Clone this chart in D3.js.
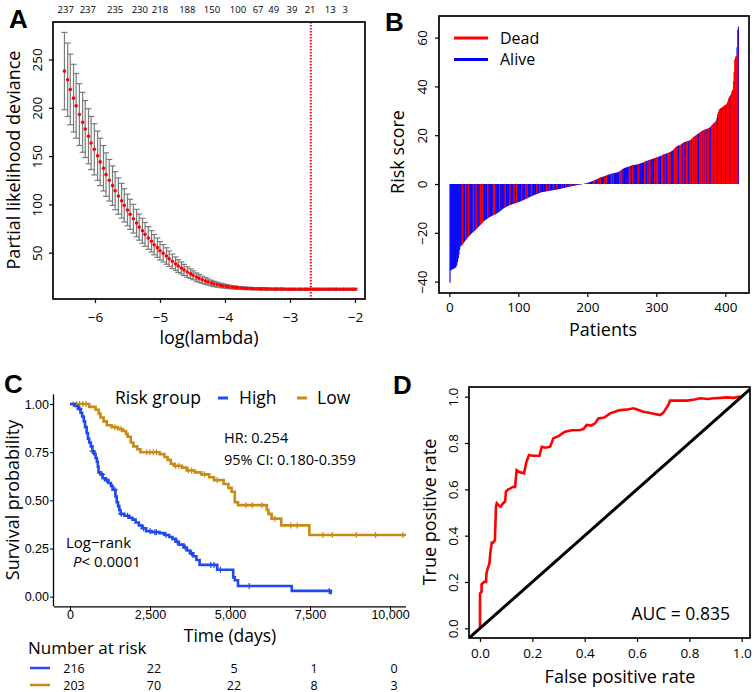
<!DOCTYPE html>
<html><head><meta charset="utf-8">
<script src="https://cdn.jsdelivr.net/npm/d3@7"></script>
<style>
body{margin:0;background:#fff}
svg{font-family:"Open Sans",sans-serif}
</style></head><body>
<svg id="c" width="755" height="692"></svg>
<script>
// ---------- Panel A: cross-validation curve ----------
const cvLogLambda = [
-6.47,-6.42,-6.38,-6.33,-6.29,-6.24,-6.19,-6.15,-6.10,-6.06,
-6.01,-5.96,-5.92,-5.87,-5.83,-5.78,-5.73,-5.69,-5.64,-5.59,
-5.55,-5.50,-5.46,-5.41,-5.36,-5.32,-5.27,-5.23,-5.18,-5.13,
-5.09,-5.04,-5.00,-4.95,-4.90,-4.86,-4.81,-4.76,-4.72,-4.67,
-4.63,-4.58,-4.53,-4.49,-4.44,-4.40,-4.35,-4.30,-4.26,-4.21,
-4.17,-4.12,-4.07,-4.03,-3.98,-3.94,-3.89,-3.84,-3.80,-3.75,
-3.70,-3.66,-3.61,-3.57,-3.52,-3.47,-3.43,-3.38,-3.34,-3.29,
-3.24,-3.20,-3.15,-3.11,-3.06,-3.01,-2.97,-2.92,-2.87,-2.83,
-2.78,-2.74,-2.69,-2.64,-2.60,-2.55,-2.51,-2.46,-2.41,-2.37,
-2.32,-2.28,-2.23,-2.18,-2.14,-2.09,-2.04,-2.00];
const cvMean = [
238,229,219,210,202,193,185,178,170.5,163.6,
157,150.4,144,137.4,130.8,125,119.4,114.2,108.7,103.8,
99,94.2,89.7,85.2,80.7,76.5,72.7,69,65.2,61.8,
58.3,55.2,52,49.4,46.6,43.8,41.1,38.6,36.2,34.2,
32.1,30,28.3,26.6,24.8,23.5,22,20.7,19.7,18.6,
17.6,16.9,16.2,15.6,15.1,14.6,14.2,13.9,13.6,13.4,
13.2,13.0,12.9,12.8,12.7,12.6,12.5,12.5,12.4,12.4,
12.3,12.3,12.3,12.3,12.2,12.2,12.2,12.2,12.2,12.2,
12.2,12.2,12.2,12.2,12.2,12.2,12.2,12.2,12.2,12.2,
12.2,12.2,12.2,12.2,12.2,12.2,12.2,12.2];
const cvSE = [
40,38,36.5,35,33.5,32,31,29.5,28.5,27.5,
26.5,25.5,24.5,23.5,22.5,21.5,20.5,19.7,18.8,18,
17.2,16.4,15.6,14.9,14.2,13.5,12.9,12.3,11.7,11.1,
10.5,10,9.5,9,8.5,8,7.5,7,6.6,6.2,
5.8,5.4,5,4.6,4.3,4,3.7,3.4,3.1,2.9,
2.7,2.5,2.3,2.1,2.0,1.8,1.7,1.6,1.5,1.4,
1.3,1.2,1.2,1.1,1.1,1.0,1.0,1.0,0.9,0.9,
0.9,0.9,0.9,0.9,0.9,0.9,0.9,0.9,0.9,0.9,
0.9,0.9,0.9,0.9,0.9,0.9,0.9,0.9,0.9,0.9,
0.9,0.9,0.9,0.9,0.9,0.9,0.9,0.9];
const nzLogLambda = [-6.45,-6.11,-5.69,-5.31,-5.0,-4.58,-4.2,-3.8,-3.49,-3.25,-2.97,-2.69,-2.38,-2.15];
const nzLabels = ["237","237","235","230","218","188","150","100","67","49","39","21","13","3"];
const lambdaMinLog = -2.68;
const aXTicks = [-6,-5,-4,-3,-2];
const aYTicks = [50,100,150,200,250];

// ---------- Panel B: risk score per patient ----------
const riskScore = [
-40.4,
-35.5,-35.2,-35.0,-34.9,-34.8,-34.6,-34.5,-34.2,-33.8,-33.2,-32.0,
-30.5,-29.0,-27.0,
-25.6,-25.3,-25.1,-24.8,-24.4,
-24.0,-23.6,-23.2,-22.9,-22.5,-22.1,-21.8,-21.5,-21.2,-20.9,
-20.6,-20.3,-20.0,-19.8,-19.5,-19.3,-19.0,-18.7,-18.5,-18.2,
-17.9,-17.6,-17.3,-17.0,-16.7,-16.4,-16.1,-15.8,-15.5,-15.2,
-15.0,-14.8,-14.6,-14.4,-14.2,-14.0,-13.8,-13.6,-13.5,-13.3,
-13.2,-13.0,-12.9,-12.7,-12.6,-12.5,-12.3,-12.2,-12.0,-11.8,
-11.6,-11.4,-11.2,-11.0,-10.8,-10.5,-10.3,-10.1,-9.9,-9.7,
-9.6,-9.4,-9.2,-9.1,-9.0,-8.8,-8.7,-8.6,-8.5,-8.4,
-8.3,-8.2,-8.1,-8.0,-7.9,-7.8,-7.7,-7.6,-7.5,-7.4,
-7.3,-7.2,-7.1,-7.0,-6.9,-6.7,-6.6,-6.5,-6.3,-6.2,
-6.1,-6.0,-5.8,-5.7,-5.5,-5.4,-5.2,-5.1,-5.0,-4.9,
-4.8,-4.6,-4.5,-4.4,-4.3,-4.2,-4.1,-4.0,-3.9,-3.7,
-3.6,-3.5,-3.4,-3.3,-3.3,-3.2,-3.2,-3.1,-3.1,-3.0,
-3.0,-2.9,-2.9,-2.8,-2.8,-2.7,-2.7,-2.6,-2.6,-2.5,
-2.5,-2.4,-2.4,-2.3,-2.3,-2.2,-2.2,-2.1,-2.1,-2.0,
-1.9,-1.9,-1.8,-1.7,-1.7,-1.6,-1.5,-1.5,-1.4,-1.3,
-1.3,-1.2,-1.1,-1.1,-1.0,-0.9,-0.9,-0.8,-0.7,-0.7,
-0.6,-0.6,-0.5,-0.5,-0.4,-0.4,-0.3,-0.3,-0.2,-0.2,
-0.1,-0.1,0.0,0.0,0.1,0.1,0.2,0.3,0.3,0.4,
0.5,0.6,0.7,0.8,0.9,1.0,1.1,1.2,1.3,1.4,
1.5,1.6,1.8,1.9,2.0,2.2,2.3,2.4,2.6,2.7,
2.8,2.9,3.0,3.1,3.2,3.3,3.4,3.5,3.6,3.7,
3.8,3.9,4.0,4.1,4.2,4.2,4.3,4.4,4.5,4.5,
4.6,4.6,4.7,4.8,4.9,5.0,5.2,5.4,5.6,5.8,
6.0,6.2,6.4,6.5,6.6,6.7,6.8,6.9,7.0,7.1,
7.2,7.3,7.4,7.5,7.6,7.7,7.7,7.8,7.8,7.9,
7.9,8.0,8.0,8.1,8.2,8.3,8.4,8.5,8.6,8.7,
8.8,8.9,9.0,9.2,9.3,9.4,9.5,9.6,9.7,9.8,
9.9,10.0,10.1,10.2,10.3,10.4,10.5,10.6,10.7,10.8,
10.9,11.0,11.1,11.2,11.3,11.4,11.5,11.6,11.8,12.0,
12.1,12.2,12.3,12.4,12.5,12.6,12.7,12.8,12.9,13.0,
13.2,13.4,13.6,13.8,14.0,14.3,14.6,14.9,15.2,15.5,
15.6,15.7,15.8,15.9,16.0,16.2,16.4,16.6,16.8,17.0,
17.1,17.2,17.3,17.4,17.5,17.6,17.7,17.8,17.9,18.0,
18.3,18.6,18.9,19.2,19.4,19.6,19.8,20.0,20.2,20.4,
20.6,20.8,21.0,21.2,21.4,21.6,21.8,22.0,22.1,22.2,
22.3,22.4,22.5,22.6,22.7,22.8,23.0,23.2,23.5,23.8,
24.1,24.4,24.7,25.0,25.3,25.6,26.0,27.0,28.5,29.5,
30.2,30.6,30.9,31.1,31.3,31.5,31.7,31.9,32.1,32.3,
32.5,32.8,33.2,34.0,35.0,35.6,36.0,36.5,37.2,38.0,
38.6,42.0,46.0,51.0,52.0,52.5,56.0,63.0,64.5];
const deadPatients = [
19,24,28,35,39,45,48,56,64,66,73,81,88,94,98,105,111,113,119,127,131,141,145,151,156,163,169,175,177,182,188,199,
201,209,211,216,219,225,228,235,238,247,249,250,261,262,266,274,283,284,288,291,298,301,302,308,309,313,317,318,320,
326,327,329,330,334,335,337,340,344,345,349,350,353,354,356,358,359,363,364,366,368,369,371,372,375,376,380,381,382,
384,386,387,390,392,393,396,397,398,399,402,403,404,405,407,409,410,411,412,413,414,415,416,418];
const statusLabels = ["Dead","Alive"];
const bXTicks = [0,100,200,300,400];
const bYTicks = [-40,-20,0,20,40,60];

// ---------- Panel C: Kaplan-Meier ----------
const groups = ["High","Low"];
const highTime = [150,250,330,380,430,470,520,560,600,650,700,760,800,840,870,890,950,1020,1100,1200,1280,1330,1420,1460,1500,1540,1580,1700,1850,1950,2050,2150,2250,2380,2550,2800,2950,3100,3200,3300,3400,3550,3650,3750,3850,3950,4050,4600,5100,5150,5250,6930,8150];
const highSurv = [0.99,0.975,0.955,0.935,0.91,0.88,0.85,0.82,0.80,0.78,0.755,0.74,0.72,0.70,0.675,0.645,0.635,0.615,0.605,0.59,0.575,0.555,0.52,0.49,0.47,0.45,0.43,0.42,0.41,0.40,0.385,0.37,0.355,0.34,0.335,0.33,0.32,0.31,0.30,0.285,0.27,0.255,0.24,0.225,0.21,0.19,0.165,0.14,0.10,0.085,0.055,0.03,0.013];
const highEnd = 8150;
const highCensor = [300,700,1000,1150,1400,1600,1800,2300,2500,2650,2700,3000,3350,3600,3800,4400,4500,4700,5600,8100];
const lowTime = [600,800,900,950,1050,1150,1300,1500,1650,1750,1800,1900,1980,2100,2200,2800,2950,3050,3150,3250,3500,3650,3900,4100,4350,4500,4800,4950,5050,5150,5250,6150,6200,6300,6600,7480];
const lowSurv = [0.985,0.97,0.95,0.93,0.91,0.89,0.88,0.87,0.86,0.845,0.83,0.80,0.78,0.765,0.75,0.74,0.725,0.71,0.69,0.68,0.67,0.655,0.645,0.635,0.62,0.605,0.585,0.565,0.545,0.49,0.475,0.45,0.43,0.405,0.37,0.32];
const lowEnd = 10500;
const lowCensor = [100,200,300,400,500,1400,1600,2400,2500,2600,2700,3300,3400,3700,3800,4200,4600,5500,5700,6000,6400,6900,7100,7900,8200,8950,9550,10400];
const cXTicks = [0,2500,5000,7500,10000];
const cYTicks = [0,0.25,0.5,0.75,1];
const riskHigh = [216,22,5,1,0];
const riskLow = [203,70,22,8,3];

// ---------- Panel D: ROC ----------
const rocFPR = [0,0,0,0.006,0.006,0.015,0.023,0.025,0.03,0.036,0.04,0.045,0.05,0.057,0.061,0.064,0.072,0.079,0.088,0.096,
0.099,0.108,0.117,0.125,0.134,0.14,0.15,0.168,0.178,0.187,0.2,0.215,0.227,0.236,0.25,0.268,0.28,0.3,0.325,0.35,
0.382,0.395,0.408,0.425,0.44,0.452,0.475,0.497,0.515,0.535,0.56,0.586,0.6,0.624,0.65,0.688,0.7,0.707,0.72,0.726,
0.75,0.79,0.82,0.841,0.87,0.892,0.92,0.943,0.97,0.987,1];
const rocTPR = [0,0.08,0.15,0.158,0.19,0.2,0.2,0.24,0.26,0.28,0.33,0.37,0.37,0.38,0.525,0.54,0.53,0.525,0.54,0.547,
0.59,0.6,0.604,0.61,0.61,0.683,0.675,0.669,0.72,0.748,0.745,0.745,0.744,0.784,0.78,0.784,0.82,0.83,0.849,0.855,
0.856,0.86,0.878,0.875,0.885,0.906,0.91,0.928,0.935,0.942,0.944,0.95,0.945,0.935,0.93,0.921,0.93,0.942,0.965,0.983,
0.983,0.983,0.988,0.993,0.99,0.993,0.995,0.997,0.995,1,1];
const dTicks = [0,0.2,0.4,0.6,0.8,1.0];
const aucLabel = "AUC = 0.835";

// ================= drawing =================
const svg = d3.select("#c");
const RED = "#ff0000", BLUE = "#0000ff";
const HIGHC = "#2149f0", LOWC = "#c98a17";
const tickFont = 13.5, titleFont = 18;

function panelLetter(t,x,y){
  svg.append("text").attr("x",x).attr("y",y).text(t)
    .attr("font-family","'Liberation Sans',Arial,sans-serif").attr("font-weight","bold").attr("font-size",26);
}
function box(x0,y0,x1,y1){
  svg.append("rect").attr("x",x0).attr("y",y0).attr("width",x1-x0).attr("height",y1-y0)
    .attr("fill","none").attr("stroke","#000").attr("stroke-width",1.7);
}
function rAxisBottom(scale,ticks,y,labelY,fmt){
  const g = svg.append("g").attr("transform",`translate(0,${y})`)
    .call(d3.axisBottom(scale).tickValues(ticks).tickSize(4).tickFormat(fmt));
  g.select(".domain").remove();
  g.selectAll(".tick line").attr("stroke","#000").attr("stroke-width",1.2);
  g.selectAll(".tick text").attr("y",labelY-y).attr("dy",0).attr("font-size",tickFont)
    .attr("font-family","'Open Sans',sans-serif").attr("fill","#000");
}
function rAxisLeft(scale,ticks,x,labelX,fmt){
  const g = svg.append("g").attr("transform",`translate(${x},0)`)
    .call(d3.axisLeft(scale).tickValues(ticks).tickSize(4).tickFormat(fmt));
  g.select(".domain").remove();
  g.selectAll(".tick line").attr("stroke","#000").attr("stroke-width",1.2);
  g.selectAll(".tick text").attr("x",0).attr("dy",0).attr("text-anchor","middle")
    .attr("transform",`translate(${labelX-x},0) rotate(-90)`)
    .attr("font-size",tickFont).attr("font-family","'Open Sans',sans-serif").attr("fill","#000");
}
function title(t,x,y,rot,size){
  const e = svg.append("text").attr("text-anchor","middle").attr("font-size",size||titleFont).text(t);
  if(rot) e.attr("transform",`translate(${x},${y}) rotate(-90)`);
  else e.attr("x",x).attr("y",y);
  return e;
}

// ---- Panel A ----
{
  const x = d3.scaleLinear().domain([-6.646,-1.846]).range([53,365]);
  const y = d3.scaleLinear().domain([2.07,288.8]).range([299,22]);
  const pts = cvLogLambda.map((l,i)=>({l,m:cvMean[i],s:cvSE[i]}));
  const cap = 3;
  const g = svg.append("g");
  pts.forEach(p=>{
    const cx = x(p.l);
    g.append("line").attr("x1",cx).attr("x2",cx).attr("y1",y(p.m+p.s)).attr("y2",y(p.m-p.s)).attr("stroke","#7a7a7a").attr("stroke-width",1.2);
    g.append("line").attr("x1",cx-cap).attr("x2",cx+cap).attr("y1",y(p.m+p.s)).attr("y2",y(p.m+p.s)).attr("stroke","#7a7a7a").attr("stroke-width",1.2);
    g.append("line").attr("x1",cx-cap).attr("x2",cx+cap).attr("y1",y(p.m-p.s)).attr("y2",y(p.m-p.s)).attr("stroke","#7a7a7a").attr("stroke-width",1.2);
  });
  g.selectAll("circle").data(pts).join("circle").attr("cx",d=>x(d.l)).attr("cy",d=>y(d.m)).attr("r",1.8).attr("fill",RED);
  svg.append("line").attr("x1",x(lambdaMinLog)).attr("x2",x(lambdaMinLog)).attr("y1",22).attr("y2",299)
    .attr("stroke",RED).attr("stroke-width",2).attr("stroke-dasharray","1.5,1.5");
  box(53,22,365,299);
  rAxisBottom(x,aXTicks,299,322,d3.format("d"));
  rAxisLeft(y,aYTicks,53,41.5,d3.format("d"));
  svg.append("g").selectAll("text").data(nzLogLambda).join("text")
    .attr("x",d=>x(d)).attr("y",12.5).attr("text-anchor","middle").attr("font-size",9.5)
    .text((d,i)=>nzLabels[i]);
  title("log(lambda)",209,344);
  title("Partial likelihood deviance",19.5,160,true);
  panelLetter("A",9,28);
}

// ---- Panel B ----
{
  const x = d3.scaleLinear().domain([0,400]).range([449.3,725.3]);
  const y = d3.scaleLinear().domain([-40,60]).range([281.6,37.6]);
  const deadSet = new Set(deadPatients);
  const bars = riskScore.map((v,i)=>({i:i+1,v,dead:deadSet.has(i+1)}));
  const w = x(1)-x(0);
  svg.append("g").selectAll("rect").data(bars).join("rect")
    .attr("x",d=>x(d.i)-w*0.8).attr("width",w*1.6)
    .attr("y",d=>Math.min(y(0),y(d.v))).attr("height",d=>Math.abs(y(d.v)-y(0)))
    .attr("fill",d=>d.dead?RED:BLUE);
  svg.append("g").selectAll("rect").data(bars.filter(d=>d.dead)).join("rect")
    .attr("x",d=>x(d.i)-w*0.8).attr("width",w*1.6)
    .attr("y",d=>Math.min(y(0),y(d.v))).attr("height",d=>Math.abs(y(d.v)-y(0)))
    .attr("fill",RED);
  box(439,16,749,293);
  rAxisBottom(x,bXTicks,293,312,d3.format("d"));
  rAxisLeft(y,bYTicks,439,426.5,d3.format("d"));
  title("Patients",603,336);
  title("Risk score",403.5,152,true);
  const lg = svg.append("g");
  [RED,BLUE].forEach((c,k)=>{
    lg.append("line").attr("x1",454).attr("x2",488).attr("y1",38+k*21.5).attr("y2",38+k*21.5).attr("stroke",c).attr("stroke-width",3);
    lg.append("text").attr("x",500).attr("y",38+k*21.5+5.5).attr("font-size",16).text(statusLabels[k]);
  });
  panelLetter("B",385,31);
}

// ---- Panel C ----
{
  const x = d3.scaleLinear().domain([-500,10500]).range([54,406]);
  const y = d3.scaleLinear().domain([-0.05,1.05]).range([606.3,394.4]);
  svg.append("defs").append("clipPath").attr("id","clipC").append("rect").attr("x",54).attr("y",390).attr("width",352).attr("height",220);
  const line = d3.line().x(d=>x(d[0])).y(d=>y(d[1])).curve(d3.curveStepAfter);
  function kmPts(T,S,end){
    const p=[[0,1]]; T.forEach((t,i)=>p.push([t,S[i]])); p.push([end,S[S.length-1]]); return p;
  }
  function survAt(T,S,t){ let s=1; T.forEach((tt,i)=>{ if(tt<=t) s=S[i]; }); return s; }
  const series = [
    {T:highTime,S:highSurv,end:highEnd,c:HIGHC,cens:highCensor},
    {T:lowTime,S:lowSurv,end:lowEnd,c:LOWC,cens:lowCensor}];
  const gC = svg.append("g").attr("clip-path","url(#clipC)");
  series.slice().reverse().forEach(s=>{
    gC.append("path").attr("d",line(kmPts(s.T,s.S,s.end))).attr("fill","none").attr("stroke",s.c).attr("stroke-width",2.6);
    s.cens.forEach(t=>{
      const cx=x(t), cy=y(survAt(s.T,s.S,t));
      gC.append("path").attr("d",`M${cx-3},${cy}H${cx+3}M${cx},${cy-3}V${cy+3}`).attr("stroke",s.c).attr("stroke-width",1.2);
    });
  });
  const gx = svg.append("g").attr("transform","translate(0,606.3)")
    .call(d3.axisBottom(x).tickValues(cXTicks).tickSize(4).tickSizeOuter(0).tickFormat(d3.format(",")));
  gx.select(".domain").attr("stroke","#000").attr("stroke-width",1.3).attr("d","M54,0.5H406");
  gx.selectAll(".tick text").attr("font-size",12.5).attr("fill","#000").attr("y",4).attr("dy","0.71em");
  const gy = svg.append("g").attr("transform","translate(54,0)")
    .call(d3.axisLeft(y).tickValues(cYTicks).tickSize(4).tickSizeOuter(0).tickFormat(d3.format(".2f")));
  gy.select(".domain").attr("stroke","#000").attr("stroke-width",1.3).attr("d","M-0.5,394.4V606.3");
  gy.selectAll(".tick text").attr("font-size",12.5).attr("fill","#000").attr("x",-5);
  title("Time (days)",230,642,false,17.5);
  title("Survival probability",19,500,true);
  svg.append("text").attr("x",115).attr("y",404).attr("font-size",17.5).text("Risk group");
  [[HIGHC,218,"High",239],[LOWC,297,"Low",317]].forEach(([c,lx,t,tx])=>{
    svg.append("line").attr("x1",lx).attr("x2",lx+10).attr("y1",398).attr("y2",398).attr("stroke",c).attr("stroke-width",3);
    svg.append("text").attr("x",tx).attr("y",404).attr("font-size",17.5).text(t);
  });
  svg.append("text").attr("x",224).attr("y",443).attr("font-size",14.5).text("HR: 0.254");
  svg.append("text").attr("x",224).attr("y",465).attr("font-size",14.5).text("95% CI: 0.180-0.359");
  svg.append("text").attr("x",66).attr("y",548).attr("font-size",15).text("Log\u2212rank");
  const pt = svg.append("text").attr("x",73).attr("y",567).attr("font-size",15);
  pt.append("tspan").attr("font-style","italic").text("P");
  pt.append("tspan").text("< 0.0001");
  svg.append("text").attr("x",28).attr("y",654).attr("font-size",17).text("Number at risk");
  [[riskHigh,HIGHC,668,672.5],[riskLow,LOWC,685,689.5]].forEach(([vals,c,yy,by])=>{
    svg.append("line").attr("x1",30).attr("x2",50).attr("y1",yy).attr("y2",yy).attr("stroke",c).attr("stroke-width",2.5);
    svg.append("g").selectAll("text").data(vals).join("text")
      .attr("x",(d,i)=>x(cXTicks[i])+4).attr("y",by).attr("text-anchor","middle").attr("font-size",12.5).text(d=>d);
  });
  panelLetter("C",4,393);
}

// ---- Panel D ----
{
  const x = d3.scaleLinear().domain([0,1]).range([480,741.7]);
  const y = d3.scaleLinear().domain([0,1]).range([628.3,396.7]);
  svg.append("defs").append("clipPath").attr("id","clipD").append("rect").attr("x",469).attr("y",387).attr("width",281).attr("height",251);
  const gD = svg.append("g").attr("clip-path","url(#clipD)");
  const roc = rocFPR.map((f,i)=>[f,rocTPR[i]]);
  gD.append("path").attr("d",d3.line().x(d=>x(d[0])).y(d=>y(d[1]))(roc)).attr("fill","none").attr("stroke",RED).attr("stroke-width",2.6);
  gD.append("line").attr("x1",x(-0.1)).attr("y1",y(-0.1)).attr("x2",x(1.1)).attr("y2",y(1.1)).attr("stroke","#000").attr("stroke-width",3);
  box(469,387,750,638);
  rAxisBottom(x,dTicks,638,658,d3.format(".1f"));
  rAxisLeft(y,dTicks,469,457.5,d3.format(".1f"));
  title("False positive rate",620,683);
  title("True positive rate",436,512,true);
  svg.append("text").attr("x",730).attr("y",620).attr("text-anchor","end").attr("font-size",17.5).text(aucLabel);
  panelLetter("D",393,394);
}
</script>
</body></html>
